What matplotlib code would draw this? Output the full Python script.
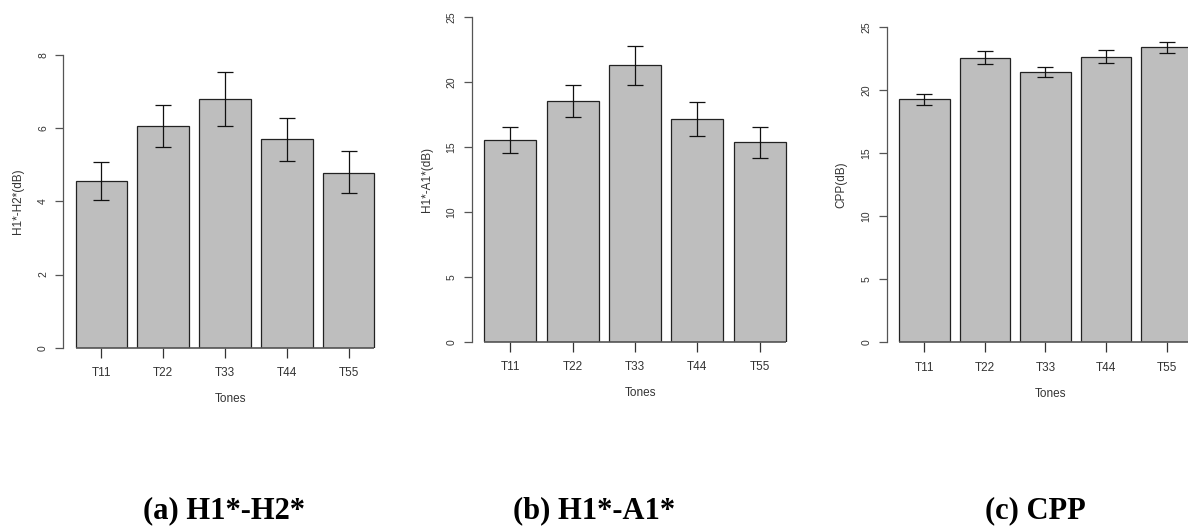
import matplotlib
matplotlib.use("Agg")
import matplotlib.pyplot as plt
import numpy as np

tones = ["T11", "T22", "T33", "T44", "T55"]

h1h2_mean = [4.55, 6.07, 6.81, 5.70, 4.78]
h1h2_upper = [5.07, 6.64, 7.53, 6.27, 5.38]
h1h2_lower = [4.05, 5.48, 6.07, 5.10, 4.22]

h1a1_mean = [15.53, 18.53, 21.31, 17.15, 15.37]
h1a1_upper = [16.55, 19.79, 22.80, 18.48, 16.55]
h1a1_lower = [14.55, 17.30, 19.82, 15.84, 14.14]

cpp_mean = [19.29, 22.59, 21.45, 22.64, 23.40]
cpp_upper = [19.73, 23.10, 21.85, 23.17, 23.83]
cpp_lower = [18.81, 22.06, 21.06, 22.17, 22.95]

ylabels = ["H1*-H2*(dB)", "H1*-A1*(dB)", "CPP(dB)"]
yticks_list = [[0, 2, 4, 6, 8], [0, 5, 10, 15, 20, 25], [0, 5, 10, 15, 20, 25]]
ylims = [8, 25, 25]
captions = ["(a) H1*-H2*", "(b) H1*-A1*", "(c) CPP"]

W, H = 1188, 529
fig = plt.figure(figsize=(W / 100, H / 100), dpi=100)

# pixel geometry: (axis_left_px, px_per_unit, y_bottom_px, y_top_px)
geo = [(63.3, 51.5, 347.7, 55.0), (471.8, 51.94, 341.7, 17.3), (886.9, 50.5, 342.3, 27.3)]
caption_x = [224, 594, 1035]

data = [(h1h2_mean, h1h2_upper, h1h2_lower),
        (h1a1_mean, h1a1_upper, h1a1_lower),
        (cpp_mean, cpp_upper, cpp_lower)]

txtcol = "#333333"
xpos = 0.7 + 1.2 * np.arange(len(tones))
xlim = (-0.04, 6.44)

for i, ((m, up, lo), (lx, ppu, yb, yt)) in enumerate(zip(data, geo)):
    width_px = (xlim[1] - xlim[0]) * ppu
    ax = fig.add_axes([lx / W, 1 - yb / H, width_px / W, (yb - yt) / H])
    ax.bar(xpos, m, width=1.0, color="#BEBEBE", edgecolor="#222222", linewidth=0.9, zorder=2)
    m = np.array(m); up = np.array(up); lo = np.array(lo)
    ax.errorbar(xpos, m, yerr=[m - lo, up - m], fmt="none", ecolor="#111111",
                elinewidth=0.9, capsize=6, capthick=0.9, zorder=3)
    ax.hlines(0, xpos[0] - 0.5, xpos[-1] + 0.5, color="#555555", linewidth=1.2, zorder=4, clip_on=False)
    ax.set_xlim(*xlim)
    ax.set_ylim(0, ylims[i])
    for s in ["top", "right", "bottom"]:
        ax.spines[s].set_visible(False)
    ax.spines["left"].set_color("#555555")
    ax.spines["left"].set_linewidth(0.9)
    ax.set_yticks(yticks_list[i])
    ax.set_yticklabels([str(t) for t in yticks_list[i]], rotation=90, va="center",
                       fontsize=7.5, color=txtcol, family="Liberation Sans")
    ax.set_xticks(xpos)
    ax.set_xticklabels(tones, fontsize=8.5, color=txtcol, family="Liberation Sans")
    ax.tick_params(axis="y", length=6, width=0.9, color="#555555", pad=5)
    ax.tick_params(axis="x", length=7, width=0.9, color="#333333", pad=7)
    ax.set_xlabel("Tones", fontsize=8.5, color=txtcol, family="Liberation Sans", labelpad=10)
    ax.set_ylabel(ylabels[i], fontsize=8.5, color=txtcol, family="Liberation Sans", labelpad=10)
    ax.patch.set_alpha(0)
    fig.text(caption_x[i] / W, 1 - 511 / H, captions[i], ha="center", va="center",
             fontsize=22, fontweight="bold", family="Liberation Serif")

fig.savefig("out.png", dpi=100)
